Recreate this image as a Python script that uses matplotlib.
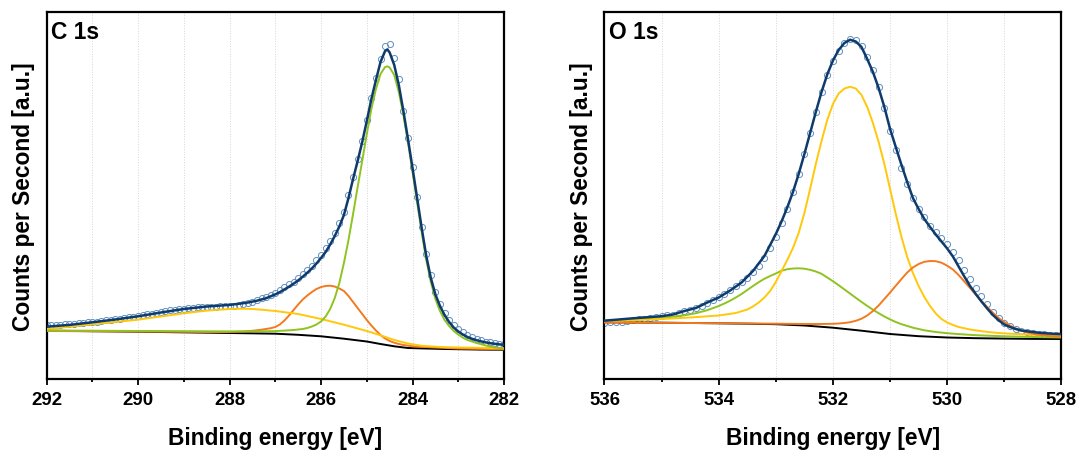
import matplotlib
matplotlib.use("Agg")
import matplotlib.pyplot as plt

plt.rcParams['font.family'] = ['Liberation Sans', 'DejaVu Sans']
plt.rcParams['font.weight'] = 'bold'

# ---------------- C 1s data ----------------
c1s_data_e = [round(292.0 - 0.1 * i, 1) for i in range(101)]
c1s_data_v = [53.5, 53.8, 54.2, 54.0, 54.6, 55.0, 55.3, 55.8, 56.0, 56.9,
              57.2, 57.5, 58.4, 58.7, 59.5, 60.3, 60.5, 61.4, 62.0, 62.3,
              63.2, 64.2, 64.6, 65.5, 66.5, 67.0, 67.8, 68.6, 69.0, 69.8,
              70.5, 71.2, 71.3, 71.8, 72.0, 72.4, 72.3, 72.5, 72.6, 72.9,
              73.0, 73.3, 74.2, 74.8, 76.0, 77.5, 79.0, 80.6, 82.2, 84.0,
              86.5, 89.0, 91.6, 94.6, 97.5, 101.0, 104.8, 109.0, 113.5, 118.6,
              124.5, 131.0, 138.5, 146.5, 156.0, 167.5, 184.0, 202.0, 220.0, 238.5,
              259.0, 281.5, 301.0, 320.0, 333.5, 335.0, 321.0, 300.0, 268.5, 241.0,
              212.0, 182.0, 152.5, 125.5, 104.0, 87.5, 75.5, 66.0, 59.0, 53.5,
              49.5, 46.5, 43.5, 41.5, 40.0, 38.5, 37.3, 36.5, 35.7, 35.0, 34.5]

c1s_env_e = [292.0, 291.5, 291.0, 290.5, 290.0, 289.5, 289.0, 288.5, 288.0, 287.8,
             287.6, 287.4, 287.2, 287.0, 286.9, 286.8, 286.7, 286.6, 286.5, 286.4,
             286.3, 286.2, 286.1, 286.0, 285.9, 285.8, 285.7, 285.6, 285.5, 285.4,
             285.3, 285.2, 285.1, 285.0, 284.9, 284.8, 284.7, 284.6, 284.55, 284.5,
             284.4, 284.3, 284.2, 284.1, 284.0, 283.9, 283.8, 283.7, 283.6, 283.5,
             283.4, 283.3, 283.2, 283.1, 283.0, 282.9, 282.8, 282.7, 282.6, 282.5,
             282.4, 282.3, 282.2, 282.1, 282.0]
c1s_env_v = [52.3, 54.1, 56.7, 59.5, 62.7, 66.5, 70.0, 72.5, 74.1, 75.2,
             76.5, 78.3, 80.8, 84.6, 86.9, 89.5, 92.3, 95.3, 98.6, 102.3,
             106.3, 110.6, 115.5, 121.0, 127.0, 134.5, 143.0, 152.5, 164.0, 181.0,
             200.0, 218.0, 237.0, 258.0, 280.0, 299.0, 317.0, 328.0, 329.5, 326.5,
             314.0, 294.0, 268.0, 240.0, 211.0, 181.0, 151.0, 123.0, 101.0, 84.5,
             73.0, 64.0, 57.0, 51.5, 47.5, 44.5, 42.0, 40.2, 38.8, 37.6,
             36.6, 35.8, 35.2, 34.6, 34.2]

c1s_green_e = [292.0, 291.0, 290.0, 289.0, 288.0, 287.5, 287.0, 286.8, 286.6, 286.4,
               286.3, 286.2, 286.1, 286.0, 285.9, 285.8, 285.7, 285.6, 285.5, 285.4,
               285.3, 285.2, 285.1, 285.0, 284.9, 284.8, 284.7, 284.6, 284.55, 284.5,
               284.4, 284.3, 284.2, 284.1, 284.0, 283.9, 283.8, 283.7, 283.6, 283.5,
               283.4, 283.3, 283.2, 283.1, 283.0, 282.9, 282.8, 282.6, 282.4, 282.2, 282.0]
c1s_green_v = [48.5, 48.3, 48.0, 47.8, 47.6, 47.6, 47.9, 48.4, 49.0, 50.0,
               51.0, 52.5, 54.5, 57.5, 62.5, 70.0, 81.0, 96.0, 116.0, 139.0,
               165.0, 192.0, 218.0, 245.0, 270.0, 290.0, 305.0, 312.0, 312.7, 311.5,
               304.0, 287.0, 264.0, 237.0, 207.0, 177.0, 147.0, 119.0, 97.0, 80.0,
               68.0, 59.0, 53.0, 48.0, 44.5, 41.3, 39.0, 36.0, 33.5, 31.5, 30.5]

c1s_orange_e = [292.0, 290.0, 288.5, 288.0, 287.7, 287.5, 287.3, 287.1, 287.0, 286.9,
                286.8, 286.7, 286.6, 286.5, 286.4, 286.3, 286.2, 286.1, 286.0, 285.9,
                285.8, 285.7, 285.6, 285.5, 285.4, 285.3, 285.2, 285.1, 285.0, 284.9,
                284.8, 284.7, 284.6, 284.5, 284.4, 284.3, 284.2, 284.0, 283.6, 283.0, 282.0]
c1s_orange_v = [48.0, 47.5, 47.0, 47.0, 47.5, 48.2, 49.3, 50.8, 52.0, 54.5,
                58.5, 63.5, 69.0, 74.5, 79.5, 83.5, 87.0, 90.0, 92.0, 93.0,
                93.3, 92.5, 90.5, 88.0, 83.0, 77.0, 71.0, 65.0, 59.0, 53.5,
                48.5, 44.0, 40.5, 38.0, 36.3, 35.0, 34.0, 32.7, 31.7, 30.5, 29.7]

c1s_yellow_e = [292.0, 291.5, 291.0, 290.5, 290.0, 289.5, 289.0, 288.5, 288.0, 287.7,
                287.5, 287.3, 287.0, 286.5, 286.0, 285.5, 285.0, 284.7, 284.4, 284.1,
                283.8, 283.4, 283.0, 282.3, 282.0]
c1s_yellow_v = [50.0, 52.3, 54.7, 57.0, 59.3, 62.5, 65.7, 68.4, 70.0, 70.3,
                70.0, 69.3, 68.0, 65.0, 60.0, 54.3, 48.0, 43.7, 39.0, 35.5,
                33.2, 32.0, 31.5, 31.0, 30.8]

c1s_bg_e = [292.0, 290.0, 288.0, 287.0, 286.5, 286.0, 285.5, 285.0, 284.7, 284.4,
            284.1, 283.8, 283.3, 282.5, 282.0]
c1s_bg_v = [48.3, 47.3, 46.0, 45.3, 44.2, 42.7, 40.3, 37.5, 35.0, 32.7,
            31.0, 30.6, 30.0, 29.4, 29.2]

# ---------------- O 1s data ----------------
o1s_data_e = [round(536.0 - 0.1 * i, 1) for i in range(81)]
o1s_data_v = [56.5, 56.8, 57.2, 57.5, 58.0, 58.8, 59.6, 60.5, 61.3, 62.0,
              63.0, 63.8, 64.5, 66.3, 68.2, 69.5, 71.2, 73.3, 76.2, 79.2,
              81.8, 85.2, 89.0, 92.7, 96.8, 101.0, 107.0, 113.5, 121.0, 131.0,
              142.0, 156.0, 170.0, 187.0, 205.0, 225.0, 246.0, 267.0, 287.5, 304.5,
              318.0, 328.5, 336.0, 340.5, 339.0, 333.0, 322.0, 309.5, 292.0, 271.0,
              248.0, 229.0, 211.0, 195.5, 181.0, 170.5, 162.0, 153.5, 147.0, 141.5,
              135.0, 127.5, 119.0, 109.5, 100.0, 91.5, 83.0, 75.0, 67.5, 61.0,
              56.0, 53.0, 50.0, 48.0, 46.5, 45.5, 45.0, 44.5, 44.3, 44.2, 44.2]

o1s_env_e = [536.0, 535.5, 535.0, 534.8, 534.6, 534.4, 534.2, 534.0, 533.8, 533.6,
             533.4, 533.2, 533.1, 533.0, 532.9, 532.8, 532.7, 532.6, 532.5, 532.4,
             532.3, 532.2, 532.1, 532.0, 531.9, 531.8, 531.7, 531.6, 531.5, 531.4,
             531.3, 531.2, 531.1, 531.0, 530.9, 530.8, 530.7, 530.6, 530.5, 530.4,
             530.3, 530.2, 530.1, 530.0, 529.9, 529.8, 529.7, 529.6, 529.5, 529.4,
             529.3, 529.2, 529.1, 529.0, 528.9, 528.8, 528.7, 528.6, 528.5, 528.4,
             528.3, 528.2, 528.1, 528.0]
o1s_env_v = [58.3, 60.7, 62.8, 64.5, 68.0, 71.0, 76.5, 81.5, 88.5, 96.5,
             108.0, 123.0, 134.0, 145.0, 157.5, 171.5, 187.0, 205.0, 225.0, 246.0,
             267.0, 287.0, 304.5, 318.5, 329.0, 336.0, 339.3, 337.5, 332.0, 320.0,
             307.0, 291.0, 272.0, 250.0, 232.0, 214.0, 197.0, 181.0, 170.0, 160.0,
             152.0, 144.5, 137.5, 130.5, 122.5, 112.5, 102.5, 93.0, 85.0, 77.5,
             70.5, 64.0, 58.8, 54.5, 52.0, 50.0, 48.5, 47.7, 47.0, 46.3,
             45.8, 45.4, 45.1, 44.8]

o1s_yellow_e = [536.0, 535.5, 535.0, 534.5, 534.0, 533.7, 533.5, 533.4, 533.3, 533.2,
                533.1, 533.0, 532.9, 532.8, 532.7, 532.6, 532.5, 532.4, 532.3, 532.2,
                532.1, 532.0, 531.9, 531.8, 531.7, 531.6, 531.5, 531.4, 531.3, 531.2,
                531.1, 531.0, 530.9, 530.8, 530.7, 530.6, 530.5, 530.4, 530.3, 530.2,
                530.1, 530.0, 529.9, 529.8, 529.6, 529.4, 529.2, 529.0, 528.5, 528.0]
o1s_yellow_v = [57.3, 58.7, 60.0, 61.5, 63.5, 66.0, 69.5, 72.5, 76.5, 81.5,
                88.0, 97.0, 108.0, 119.0, 131.0, 146.0, 166.0, 190.0, 215.0, 238.0,
                259.0, 275.0, 285.5, 290.5, 292.3, 290.5, 284.0, 272.0, 256.0, 237.0,
                215.0, 190.0, 165.0, 142.0, 122.0, 106.0, 93.0, 82.0, 73.0, 65.5,
                60.0, 56.5, 54.0, 52.0, 49.5, 47.8, 46.5, 45.6, 44.2, 43.2]

o1s_green_e = [536.0, 535.5, 535.0, 534.8, 534.6, 534.4, 534.2, 534.0, 533.9, 533.8,
               533.7, 533.6, 533.5, 533.4, 533.3, 533.2, 533.1, 533.0, 532.9, 532.8,
               532.7, 532.6, 532.5, 532.4, 532.3, 532.2, 532.1, 532.0, 531.9, 531.8,
               531.7, 531.6, 531.5, 531.4, 531.3, 531.2, 531.1, 531.0, 530.9, 530.8,
               530.6, 530.4, 530.2, 530.0, 529.8, 529.5, 529.0, 528.5, 528.0]
o1s_green_v = [58.3, 59.7, 61.3, 62.3, 63.7, 65.8, 68.8, 73.0, 75.5, 78.3,
               81.5, 85.0, 89.0, 93.0, 96.8, 100.2, 103.0, 105.5, 108.3, 109.8,
               110.5, 110.7, 110.3, 109.2, 107.5, 105.2, 101.5, 97.8, 93.8, 89.6,
               85.4, 81.2, 77.1, 73.1, 69.3, 65.8, 62.5, 59.6, 57.0, 54.8,
               51.3, 48.7, 47.0, 45.8, 44.9, 43.8, 42.7, 42.0, 41.5]

o1s_orange_e = [536.0, 535.0, 534.0, 533.0, 532.5, 532.2, 532.0, 531.9, 531.8, 531.7,
                531.6, 531.5, 531.4, 531.3, 531.2, 531.1, 531.0, 530.9, 530.8, 530.7,
                530.6, 530.5, 530.4, 530.3, 530.2, 530.1, 530.0, 529.9, 529.8, 529.7,
                529.6, 529.5, 529.4, 529.3, 529.2, 529.1, 529.0, 528.9, 528.8, 528.7,
                528.6, 528.5, 528.4, 528.3, 528.2, 528.0]
o1s_orange_v = [56.5, 56.2, 55.8, 55.3, 55.0, 55.0, 55.2, 55.5, 56.0, 56.8,
                58.2, 60.3, 63.5, 68.0, 73.5, 80.0, 86.5, 93.3, 100.0, 106.5,
                111.5, 115.0, 117.2, 118.0, 117.8, 116.3, 113.3, 109.5, 104.0, 97.5,
                91.0, 84.5, 78.0, 72.0, 66.3, 61.0, 57.0, 53.5, 50.5, 48.3,
                46.5, 45.3, 44.3, 43.6, 43.0, 42.3]

o1s_bg_e = [536.0, 535.0, 534.0, 533.5, 533.0, 532.5, 532.0, 531.5, 531.0, 530.5,
            530.0, 529.5, 529.0, 528.5, 528.0]
o1s_bg_v = [56.7, 56.3, 55.7, 55.3, 54.8, 53.5, 51.3, 48.3, 45.0, 42.8,
            41.5, 40.8, 40.4, 40.1, 40.0]

# ---------------- styling ----------------
NAVY = '#0f3b6c'
GREEN = '#8fc31f'
ORANGE = '#f47a1f'
YELLOW = '#ffc80a'
DATA = '#5f90bf'

panels = [
    dict(name='C 1s', xlim=(292, 282), ticks=[292, 290, 288, 286, 284, 282],
         minor=[291, 289, 287, 285, 283],
         data=(c1s_data_e, c1s_data_v), env=(c1s_env_e, c1s_env_v),
         comps=[((c1s_bg_e, c1s_bg_v), 'black'),
                ((c1s_orange_e, c1s_orange_v), ORANGE),
                ((c1s_yellow_e, c1s_yellow_v), YELLOW),
                ((c1s_green_e, c1s_green_v), GREEN)],
         rect=[0.0431, 0.1593, 0.4236, 0.8130]),
    dict(name='O 1s', xlim=(536, 528), ticks=[536, 534, 532, 530, 528],
         minor=[535, 533, 531, 529],
         data=(o1s_data_e, o1s_data_v), env=(o1s_env_e, o1s_env_v),
         comps=[((o1s_bg_e, o1s_bg_v), 'black'),
                ((o1s_green_e, o1s_green_v), GREEN),
                ((o1s_yellow_e, o1s_yellow_v), YELLOW),
                ((o1s_orange_e, o1s_orange_v), ORANGE)],
         rect=[0.5597, 0.1593, 0.4231, 0.8130]),
]

fig = plt.figure(figsize=(10.8, 4.52), dpi=100)
for p in panels:
    ax = fig.add_axes(p['rect'])
    for g in p['ticks'] + p['minor']:
        ax.axvline(g, color='#d4d4d4', lw=0.7, ls=':', zorder=0)
    ax.plot(p['data'][0], p['data'][1], ls='none', marker='o', ms=4.4,
            mfc='none', mec=DATA, mew=0.7, zorder=2)
    for (xe, ye), c in p['comps']:
        ax.plot(xe, ye, color=c, lw=1.4, zorder=3)
    ax.plot(p['env'][0], p['env'][1], color=NAVY, lw=1.8, zorder=4)
    ax.set_xlim(*p['xlim'])
    ax.set_ylim(0, 367.5)
    ax.set_xticks(p['ticks'])
    ax.set_xticks(p['minor'], minor=True)
    ax.set_yticks([])
    ax.tick_params(axis='x', which='major', direction='out', length=4.5, width=1.3,
                   labelsize=13.4, pad=4)
    ax.tick_params(axis='x', which='minor', direction='out', length=2.5, width=1.3)
    for lab in ax.get_xticklabels():
        lab.set_fontweight('bold')
    for s in ax.spines.values():
        s.set_linewidth(1.6)
    ax.set_xlabel('Binding energy [eV]', fontsize=16.4, fontweight='bold')
    ax.xaxis.set_label_coords(0.5, -0.128)
    ax.set_ylabel('Counts per Second [a.u.]', fontsize=16.4, fontweight='bold')
    ax.yaxis.set_label_coords(-0.026, 0.5)
    ax.text(0.009, 0.978, p['name'], transform=ax.transAxes, ha='left', va='top',
            fontsize=16.4, fontweight='bold')

fig.savefig('out.png', dpi=100)
